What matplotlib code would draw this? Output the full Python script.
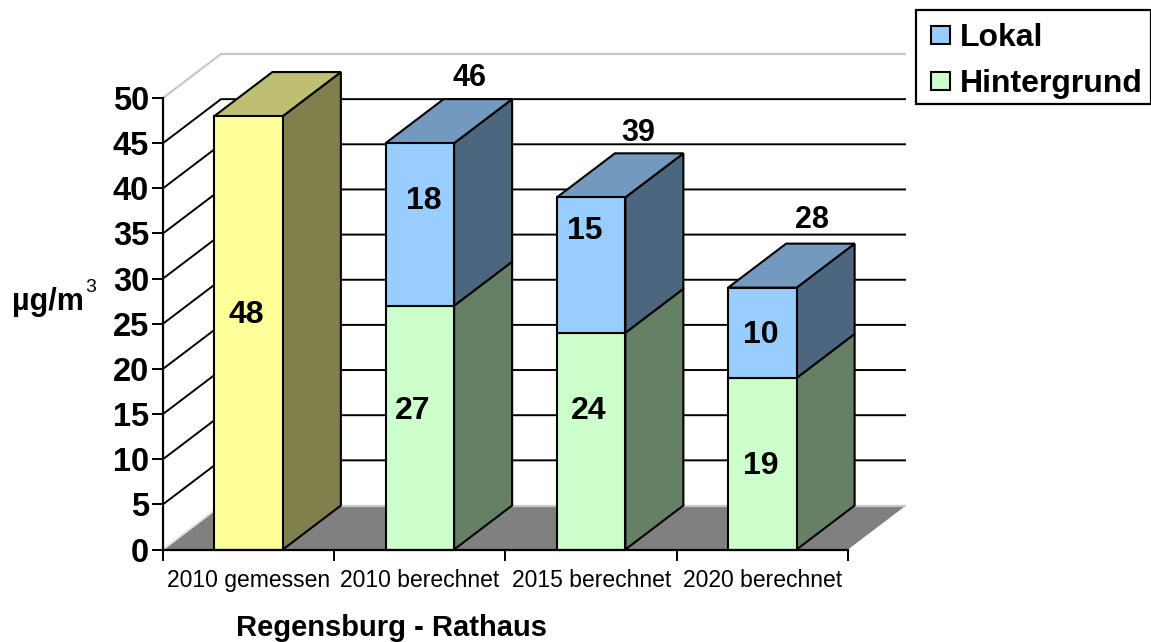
#!/usr/bin/env python
import matplotlib
matplotlib.use("Agg")
import matplotlib.pyplot as plt
from matplotlib.patches import Rectangle

plt.rcParams["font.family"] = ["Liberation Sans", "DejaVu Sans"]

# data
categories = ["2010 gemessen", "2010 berechnet", "2015 berechnet", "2020 berechnet"]
gemessen = [48, 0, 0, 0]
hintergrund = [0, 27, 24, 19]
lokal = [0, 18, 15, 10]
total_labels = ["", "46", "39", "28"]
y_ticks = [0, 5, 10, 15, 20, 25, 30, 35, 40, 45, 50]
legend_labels = ["Lokal", "Hintergrund"]

# label shifts in pixels from the middle of each segment
shift_gemessen = [(-2, 18)]
shift_hintergrund = [(None, None), (-7, 17), (-3, 30), (-2, -2)]
shift_lokal = [(None, None), (4, 23), (-6, 34), (-2, -2)]
shift_total = [(None, None), (50, 65), (47, 64), (50, 68)]

W, H = 1151, 642
BAR_W = 0.4
DX = 58 / 171.25  # depth of the fake 3d box, data units
DY = 44 / 9.03

YELLOW = ("#FFFF99", "#BFBF73", "#80804D")
GREEN = ("#CCFFCC", "#99BF99", "#668066")
BLUE = ("#99CCFF", "#7399BF", "#4D6680")


def draw_bar(ax, i, y0, y1, colors, z, top=True):
    x0 = i + 0.5 - BAR_W / 2
    x1 = i + 0.5 + BAR_W / 2
    edge = dict(edgecolor="k", linewidth=1.5, clip_on=False, zorder=z, joinstyle="miter")
    ax.fill([x1, x1 + DX, x1 + DX, x1], [y0, y0 + DY, y1 + DY, y1], facecolor=colors[2], **edge)
    if top:
        ax.fill([x0, x1, x1 + DX, x0 + DX], [y1, y1, y1 + DY, y1 + DY], facecolor=colors[1], **edge)
    ax.fill([x0, x1, x1, x0], [y0, y0, y1, y1], facecolor=colors[0], **edge)


def px_rect(fig, left, top, right, bottom, **kwargs):
    # rectangle given in picture pixels, y from the top
    r = Rectangle((left / W, 1 - bottom / H), (right - left) / W, (bottom - top) / H,
                  transform=fig.transFigure, **kwargs)
    fig.add_artist(r)


fig = plt.figure(figsize=(W / 100, H / 100), dpi=100)
ax = fig.add_axes([163 / W, (H - 549.5) / H, 685 / W, 451.5 / H])
ax.set_xlim(0, 4)
ax.set_ylim(0, 50)
ax.patch.set_visible(False)

# floor
ax.fill([0, 4, 4 + DX, DX], [0, 0, DY, DY], facecolor="#808080", edgecolor="none",
        clip_on=False, zorder=1)

# walls
for t in y_ticks:
    if t in (0, 50):
        color, lw = "#C8C8C8", 1.6
    else:
        color, lw = "k", 1.4
    xs = [DX, 4 + DX] if t == 0 else [0, DX, 4 + DX]
    ys = [DY, DY] if t == 0 else [t, t + DY, t + DY]
    ax.plot(xs, ys, color=color, lw=lw, clip_on=False, zorder=2, solid_joinstyle="miter",
            solid_capstyle="butt")
ax.plot([0, DX], [0, DY], color="#E0E0E0", lw=1.4, clip_on=False, zorder=2)

# bars
for i in range(len(categories)):
    z = 3 + i
    if gemessen[i]:
        draw_bar(ax, i, 0, gemessen[i], YELLOW, z)
    if hintergrund[i]:
        draw_bar(ax, i, 0, hintergrund[i], GREEN, z, top=False)
        draw_bar(ax, i, hintergrund[i], hintergrund[i] + lokal[i], BLUE, z)

# value labels
label_kw = dict(xycoords="data", textcoords="offset pixels", ha="center", va="center",
                fontweight="bold", annotation_clip=False, zorder=10)
for i in range(len(categories)):
    if gemessen[i]:
        ax.annotate(str(gemessen[i]), (i + 0.5, gemessen[i] / 2), xytext=shift_gemessen[0],
                    fontsize=23, **label_kw)
    if hintergrund[i]:
        ax.annotate(str(hintergrund[i]), (i + 0.5, hintergrund[i] / 2),
                    xytext=shift_hintergrund[i], fontsize=23, **label_kw)
        ax.annotate(str(lokal[i]), (i + 0.5, hintergrund[i] + lokal[i] / 2),
                    xytext=shift_lokal[i], fontsize=23, **label_kw)
        ax.annotate(total_labels[i], (i + 0.5, hintergrund[i] + lokal[i]),
                    xytext=shift_total[i], fontsize=22, **label_kw)

# axes
for s in ("top", "right"):
    ax.spines[s].set_visible(False)
for s in ("left", "bottom"):
    ax.spines[s].set_linewidth(1.6)
    ax.spines[s].set_zorder(20)
ax.set_yticks(y_ticks)
ax.tick_params(axis="y", labelsize=23.5, length=8, width=1.4, pad=2)
for lab in ax.get_yticklabels():
    lab.set_fontweight("bold")
ax.set_xticks(range(len(categories) + 1))
ax.set_xticklabels([])
ax.tick_params(axis="x", length=8, width=1.4)
ax.set_xticks([i + 0.5 for i in range(len(categories))], minor=True)
ax.set_xticklabels(categories, minor=True, fontsize=16.5)
ax.tick_params(axis="x", which="minor", length=0, pad=14)

fig.text(12 / W, 1 - 302 / H, "µg/m", fontsize=22, fontweight="bold", ha="left", va="center")
fig.text(85 / W, 1 - 287 / H, "3", fontsize=14, ha="left", va="center")
fig.text(392 / W, 1 - 635.5 / H, "Regensburg - Rathaus", fontsize=21, fontweight="bold",
         ha="center", va="baseline")

# legend box, the handles sit further in than a normal legend allows
px_rect(fig, 916, 10, 1150.5, 104, facecolor="white", edgecolor="k", linewidth=1.6)
px_rect(fig, 931, 26, 950, 44, facecolor=BLUE[0], edgecolor="k", linewidth=1.5)
px_rect(fig, 931, 72, 950, 90, facecolor=GREEN[0], edgecolor="k", linewidth=1.5)
fig.text(960 / W, 1 - 46 / H, legend_labels[0], fontsize=23, fontweight="bold", va="baseline")
fig.text(960 / W, 1 - 92 / H, legend_labels[1], fontsize=23, fontweight="bold", va="baseline")

fig.savefig("out.png", dpi=100)
